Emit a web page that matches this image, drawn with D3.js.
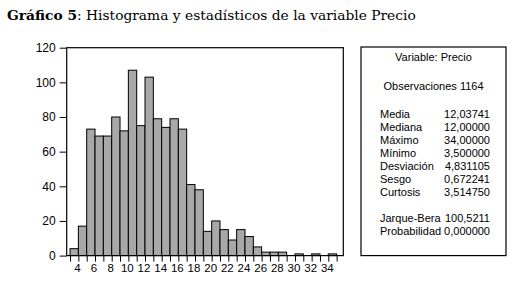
<!DOCTYPE html>
<html>
<head>
<meta charset="utf-8">
<script src="https://cdn.jsdelivr.net/npm/d3@7"></script>
<style>
  body { margin: 0; background: #fff; }
  text { font-family: "Liberation Sans", Arial, sans-serif; }
</style>
</head>
<body>
<svg id="chart"></svg>
<script>
// bins of width 1, starting at 3 (bin [3,4), [4,5), ...)
const binStarts = d3.range(3, 35);
const counts = [4, 17, 73, 69, 69, 80, 72, 107, 75, 103, 79, 74, 79, 73, 41, 38,
                14, 20, 15, 9, 15, 11, 5, 2, 2, 2, 0, 1, 0, 1, 0, 1];
const yTicks = [0, 20, 40, 60, 80, 100, 120];
const xTickLabels = [4, 6, 8, 10, 12, 14, 16, 18, 20, 22, 24, 26, 28, 30, 32, 34];

const statLabels = ["Media", "Mediana", "Máximo", "Mínimo", "Desviación", "Sesgo", "Curtosis"];
const statValues = ["12,03741", "12,00000", "34,00000", "3,500000", "4,831105", "0,672241", "3,514750"];
const testLabels = ["Jarque-Bera", "Probabilidad"];
const testValues = ["100,5211", "0,000000"];

const width = 524, height = 286;
const plot = {left: 66.7, right: 343.3, top: 47.7, bottom: 255.6};

const svg = d3.select("#chart")
    .attr("width", width)
    .attr("height", height);

// title
const title = svg.append("text")
    .attr("x", 7)
    .attr("y", 20)
    .style("font-family", "'DejaVu Serif', serif")
    .style("font-size", "13.8px");
title.append("tspan").attr("font-weight", "bold").text("Gráfico 5");
title.append("tspan").text(": Histograma y estadísticos de la variable Precio");

const x = d3.scaleLinear()
    .domain([2.6, 35.8])
    .range([plot.left, plot.right]);

const y = d3.scaleLinear()
    .domain([0, 120])
    .range([plot.bottom, plot.top]);

// bars
svg.append("g")
  .selectAll("rect")
  .data(binStarts)
  .join("rect")
    .attr("x", d => x(d))
    .attr("y", (d, i) => y(counts[i]))
    .attr("width", d => x(d + 1) - x(d))
    .attr("height", (d, i) => y(0) - y(counts[i]))
    .attr("fill", "#a8a8a8")
    .attr("stroke", "#000")
    .attr("stroke-width", 1);

// frame
svg.append("rect")
    .attr("x", plot.left)
    .attr("y", plot.top)
    .attr("width", plot.right - plot.left)
    .attr("height", plot.bottom - plot.top)
    .attr("fill", "none")
    .attr("stroke", "#000")
    .attr("stroke-width", 1.2);

// y axis
const yAxis = d3.axisLeft(y).tickValues(yTicks).tickSize(7).tickPadding(4);
const yAxisG = svg.append("g")
    .attr("transform", `translate(${plot.left},0)`)
    .call(yAxis);
yAxisG.select(".domain").remove();
yAxisG.selectAll("text").style("font-size", "12px").attr("fill", "#000");

// x axis: tick on every bin edge, labels on even values
const xAxis = d3.axisBottom(x)
    .tickValues(d3.range(3, 36))
    .tickSize(6)
    .tickPadding(2)
    .tickFormat(d => xTickLabels.includes(d) ? d : "");
const xAxisG = svg.append("g")
    .attr("transform", `translate(0,${plot.bottom})`)
    .call(xAxis);
xAxisG.select(".domain").remove();
xAxisG.selectAll("text").style("font-size", "11.5px").attr("fill", "#000").attr("dx", -1.5);

// statistics box
const box = {left: 361, right: 506, top: 47, bottom: 255.6};
svg.append("rect")
    .attr("x", box.left)
    .attr("y", box.top)
    .attr("width", box.right - box.left)
    .attr("height", box.bottom - box.top)
    .attr("fill", "none")
    .attr("stroke", "#000")
    .attr("stroke-width", 1.2);

const fs = "11px";
const mid = (box.left + box.right) / 2;
svg.append("text")
    .attr("x", mid).attr("y", 61)
    .attr("text-anchor", "middle")
    .style("font-size", fs)
    .text("Variable: Precio");
svg.append("text")
    .attr("x", mid).attr("y", 90)
    .attr("text-anchor", "middle")
    .style("font-size", fs)
    .text("Observaciones 1164");

// one text row per stat, a blank row before the test
const rowY = d3.scaleLinear().domain([0, 1]).range([118, 131]);
const labelX = 380, valueX = 490;

statLabels.forEach((lab, i) => {
  svg.append("text").attr("x", labelX).attr("y", rowY(i))
      .style("font-size", fs).text(lab);
  svg.append("text").attr("x", valueX).attr("y", rowY(i))
      .attr("text-anchor", "end")
      .style("font-size", fs).text(statValues[i]);
});
testLabels.forEach((lab, i) => {
  svg.append("text").attr("x", labelX).attr("y", rowY(i + 8))
      .style("font-size", fs).text(lab);
  svg.append("text").attr("x", valueX).attr("y", rowY(i + 8))
      .attr("text-anchor", "end")
      .style("font-size", fs).text(testValues[i]);
});
</script>
</body>
</html>
